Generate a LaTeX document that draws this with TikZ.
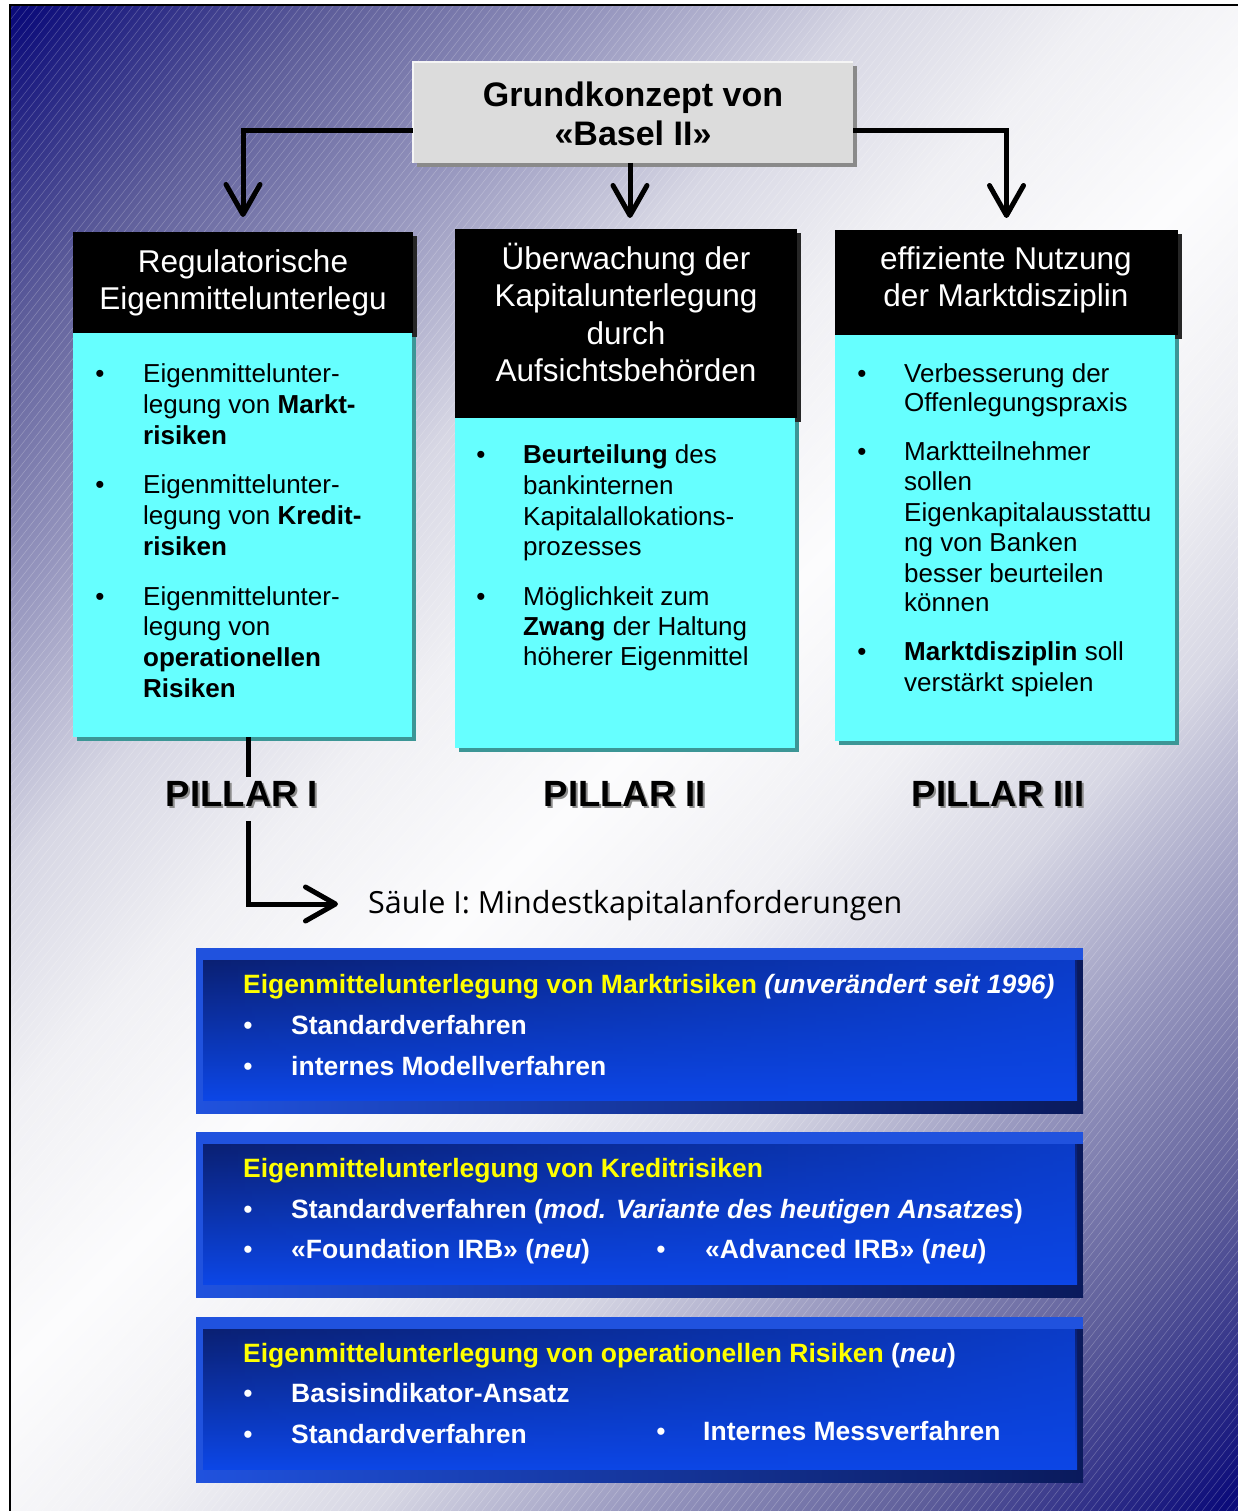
\documentclass[tikz,border=0pt]{standalone}
\usepackage{fontspec}
\setmainfont{Liberation Sans}
\newfontfamily\saeulefont{Open Sans}
\usetikzlibrary{arrows.meta,shadows,fadings}
\definecolor{bgnavy}{RGB}{12,12,122}
\definecolor{bgA}{RGB}{95,95,155}
\definecolor{bgB}{RGB}{150,150,190}
\definecolor{bgC}{RGB}{215,215,228}
\definecolor{bgD}{RGB}{240,240,244}
\definecolor{bgW}{RGB}{252,252,253}
\definecolor{cyanbox}{RGB}{102,255,255}
\definecolor{tealsh}{RGB}{60,150,150}
\definecolor{greybox}{RGB}{220,220,220}
\definecolor{greysh}{RGB}{138,138,138}
\definecolor{bluelight}{RGB}{32,82,222}
\definecolor{bluedark}{RGB}{10,26,92}
\definecolor{innerdark}{RGB}{10,32,115}
\definecolor{innerbright}{RGB}{12,70,230}
\definecolor{ylw}{RGB}{255,255,0}
\pgfdeclarehorizontalshading{bgshade}{100bp}{color(0bp)=(bgnavy); color(15bp)=(bgnavy); color(23bp)=(bgA); color(30bp)=(bgB); color(37bp)=(bgC); color(43bp)=(bgD); color(50bp)=(bgW); color(57bp)=(bgD); color(63bp)=(bgC); color(70bp)=(bgB); color(77bp)=(bgA); color(85bp)=(bgnavy); color(100bp)=(bgnavy)}
\begin{document}
\begin{tikzpicture}[x=1pt,y=-1pt,
  plain/.style={line width=5pt, black},
  conn/.style={plain, -{Straight Barb[length=30pt,width=34pt,round]}},
  topbox/.style={fill=greybox, inner sep=0pt, outer sep=0pt, anchor=north west,
    drop shadow={shadow xshift=4pt, shadow yshift=-4pt, fill=greysh, opacity=1}},
  hdrbox/.style={fill=black, inner sep=0pt, outer sep=0pt, anchor=north west,
    drop shadow={shadow xshift=4pt, shadow yshift=-4pt, fill=black!85, opacity=1}},
  bodybox/.style={fill=cyanbox, inner sep=0pt, outer sep=0pt, anchor=north west,
    drop shadow={shadow xshift=4pt, shadow yshift=-4pt, fill=tealsh, opacity=1}},
  bframe/.style={inner sep=0pt, outer sep=0pt, anchor=north west, minimum width=887pt},
  toptxt/.style={anchor=base, inner sep=0pt, font=\bfseries\fontsize{34}{39}\selectfont},
  hdrtxt/.style={anchor=base, inner sep=0pt, text=white, font=\fontsize{31.5}{37}\selectfont},
  bodytxt/.style={anchor=base west, inner sep=0pt, font=\fontsize{26}{31}\selectfont},
  bul/.style={anchor=base, inner sep=0pt, font=\fontsize{26}{31}\selectfont},
  pillartxt/.style={anchor=base, inner sep=4pt, font=\bfseries\fontsize{36.5}{40}\selectfont},
  bluetxt/.style={anchor=base west, inner sep=0pt, text=white, font=\bfseries\fontsize{26.5}{31}\selectfont},
  bluebul/.style={anchor=base, inner sep=0pt, text=white, font=\fontsize{26.5}{31}\selectfont},
  hatch/.style={white, opacity=0.25, line width=0.5pt}]
\useasboundingbox (0,0) rectangle (1238,1511);
\fill[white] (0,0) rectangle (1238,1511);
% background
\shade[shading=bgshade, shading angle=-45] (10,5) rectangle (1238,1511);
\begin{scope}
  \clip (10,5) rectangle (1238,1511);
  \foreach \k in {-1190,-1182,...,1240} \draw[hatch] (\k,1511) -- (\k+1180,5);
\end{scope}
\draw[black, line width=2pt] (10,5) rectangle (1250,1520);

% pillar boxes
\node[hdrbox, minimum width=340pt, minimum height=101pt] (p1h) at (73,232) {};
\node[bodybox, minimum width=339pt, minimum height=404pt] (p1b) at (73,333) {};
\node[hdrbox, minimum width=342pt, minimum height=189pt] (p2h) at (455,229) {};
\node[bodybox, minimum width=340pt, minimum height=330pt] (p2b) at (455,418) {};
\node[hdrbox, minimum width=343pt, minimum height=105pt] (p3h) at (835,230) {};
\node[bodybox, minimum width=340pt, minimum height=406pt] (p3b) at (835,335) {};

% top box
\node[topbox, minimum width=440pt, minimum height=101pt] (top) at (413,62) {};
\draw[white!92!gray, line width=2pt] (top.south west) -- (top.north west) -- (top.north east);
\node[toptxt] (top1) at (633,107) {Grundkonzept von};
\node[toptxt] (top2) at (633,146) {«Basel II»};

% connectors from top box
\draw[conn] ([yshift=-18.5pt]top.west) -| ([yshift=15pt]p1h.north);
\draw[conn] ([xshift=-3pt]top.south) -- ([xshift=-3pt,yshift=11pt]top.south |- p2h.north);
\draw[conn] ([yshift=-18.5pt]top.east) -| ([yshift=12pt]p3h.north);

% headers
\node[hdrtxt] (h1a) at (243,273) {Regulatorische};
\node[hdrtxt] (h1b) at (243,309) {Eigenmittelunterlegu};
\node[hdrtxt] (h2a) at (626,270) {Überwachung der};
\node[hdrtxt] (h2b) at (626,307) {Kapitalunterlegung};
\node[hdrtxt] (h2c) at (626,344) {durch};
\node[hdrtxt] (h2d) at (626,381) {Aufsichtsbehörden};
\node[hdrtxt] (h3a) at (1006,270) {effiziente Nutzung};
\node[hdrtxt] (h3b) at (1006,307) {der Marktdisziplin};

% pillar I body
\node[bul] (b11) at (100,382) {•};
\node[bodytxt] (t111) at (143,382) {Eigenmittelunter-};
\node[bodytxt] (t112) at (143,413) {legung von \textbf{Markt-}};
\node[bodytxt] (t113) at (143,444) {\textbf{risiken}};
\node[bul] (b12) at (100,493) {•};
\node[bodytxt] (t121) at (143,493) {Eigenmittelunter-};
\node[bodytxt] (t122) at (143,524) {legung von \textbf{Kredit-}};
\node[bodytxt] (t123) at (143,555) {\textbf{risiken}};
\node[bul] (b13) at (100,605) {•};
\node[bodytxt] (t131) at (143,605) {Eigenmittelunter-};
\node[bodytxt] (t132) at (143,635) {legung von};
\node[bodytxt] (t133) at (143,666) {\textbf{operationellen}};
\node[bodytxt] (t134) at (143,697) {\textbf{Risiken}};

% pillar II body
\node[bul] (b21) at (481,463) {•};
\node[bodytxt] (t211) at (523,463) {\textbf{Beurteilung} des};
\node[bodytxt] (t212) at (523,494) {bankinternen};
\node[bodytxt] (t213) at (523,525) {Kapitalallokations-};
\node[bodytxt] (t214) at (523,555) {prozesses};
\node[bul] (b22) at (481,605) {•};
\node[bodytxt] (t221) at (523,605) {Möglichkeit zum};
\node[bodytxt] (t222) at (523,635) {\textbf{Zwang} der Haltung};
\node[bodytxt] (t223) at (523,665) {höherer Eigenmittel};

% pillar III body
\node[bul] (b31) at (862,382) {•};
\node[bodytxt] (t311) at (904,382) {Verbesserung der};
\node[bodytxt] (t312) at (904,411) {Offenlegungspraxis};
\node[bul] (b32) at (862,460) {•};
\node[bodytxt] (t321) at (904,460) {Marktteilnehmer};
\node[bodytxt] (t322) at (904,490) {sollen};
\node[bodytxt] (t323) at (904,521) {Eigenkapitalausstattu};
\node[bodytxt] (t324) at (904,551) {ng von Banken};
\node[bodytxt] (t325) at (904,582) {besser beurteilen};
\node[bodytxt] (t326) at (904,611) {können};
\node[bul] (b33) at (862,660) {•};
\node[bodytxt] (t331) at (904,660) {\textbf{Marktdisziplin} soll};
\node[bodytxt] (t332) at (904,691) {verstärkt spielen};

% pillar labels
\node[pillartxt, text=black!45] (pl1s) at (244,808) {PILLAR I};
\node[pillartxt] (pl1) at (242,806) {PILLAR I};
\node[pillartxt, text=black!45] (pl2s) at (627,808) {PILLAR II};
\node[pillartxt] (pl2) at (625,806) {PILLAR II};
\node[pillartxt, text=black!45] (pl3s) at (1000,808) {PILLAR III};
\node[pillartxt] (pl3) at (998,806) {PILLAR III};

% Saeule
\node[anchor=base west, inner sep=0pt, font=\saeulefont\fontsize{30.5}{34}\selectfont] (saeule) at (368,913) {Säule I: Mindestkapitalanforderungen};
\coordinate (sarrow) at (338,904);
\coordinate (p1x) at ([xshift=6pt]p1b.south);
\draw[plain] (p1x) -- (p1x |- pl1.north);
\draw[conn] ([yshift=-11pt]p1x |- pl1.south) |- (sarrow);

% blue boxes
\foreach \nm/\yy in {bx1/948, bx2/1132, bx3/1317} {
  \node[bframe, minimum height=165pt] (\nm) at (196,\yy) {};
  \fill[bluelight] (\nm.north west) rectangle (\nm.south east);
  \fill[bluedark] ([xshift=-6pt,yshift=-12pt]\nm.north east) rectangle (\nm.south east);
  \shade[left color=bluelight, right color=bluedark] ([yshift=12pt]\nm.south west) rectangle (\nm.south east);
  \shade[top color=innerdark, bottom color=innerbright]
    ([xshift=7pt,yshift=-12pt]\nm.north west) rectangle ([xshift=-6pt,yshift=13pt]\nm.south east);
  \fill[innerbright, path fading=west, opacity=0.75]
    ([xshift=7pt,yshift=-12pt]\nm.north west) rectangle ([xshift=-6pt,yshift=13pt]\nm.south east);
}
% box 1
\node[bluetxt] (x1t) at (243,993) {{\color{ylw}Eigenmittelunterlegung von Marktrisiken} \textit{(unverändert seit 1996)}};
\node[bluebul] (x1b1) at (248,1034) {•};
\node[bluetxt] (x1l1) at (291,1034) {Standardverfahren};
\node[bluebul] (x1b2) at (248,1075) {•};
\node[bluetxt] (x1l2) at (291,1075) {internes Modellverfahren};
% box 2
\node[bluetxt] (x2t) at (243,1177) {{\color{ylw}Eigenmittelunterlegung von Kreditrisiken}};
\node[bluebul] (x2b1) at (248,1218) {•};
\node[bluetxt] (x2l1) at (291,1218) {Standardverfahren (\textit{mod. Variante des heutigen Ansatzes})};
\node[bluebul] (x2b2) at (248,1258) {•};
\node[bluetxt] (x2l2) at (291,1258) {«Foundation IRB» (\textit{neu})};
\node[bluebul] (x2b3) at (661,1258) {•};
\node[bluetxt] (x2l3) at (705,1258) {«Advanced IRB» (\textit{neu})};
% box 3
\node[bluetxt] (x3t) at (243,1362) {{\color{ylw}Eigenmittelunterlegung von operationellen Risiken} (\textit{neu})};
\node[bluebul] (x3b1) at (248,1402) {•};
\node[bluetxt] (x3l1) at (291,1402) {Basisindikator-Ansatz};
\node[bluebul] (x3b2) at (248,1443) {•};
\node[bluetxt] (x3l2) at (291,1443) {Standardverfahren};
\node[bluebul] (x3b3) at (661,1440) {•};
\node[bluetxt] (x3l3) at (703,1440) {Internes Messverfahren};
\end{tikzpicture}
\end{document}
